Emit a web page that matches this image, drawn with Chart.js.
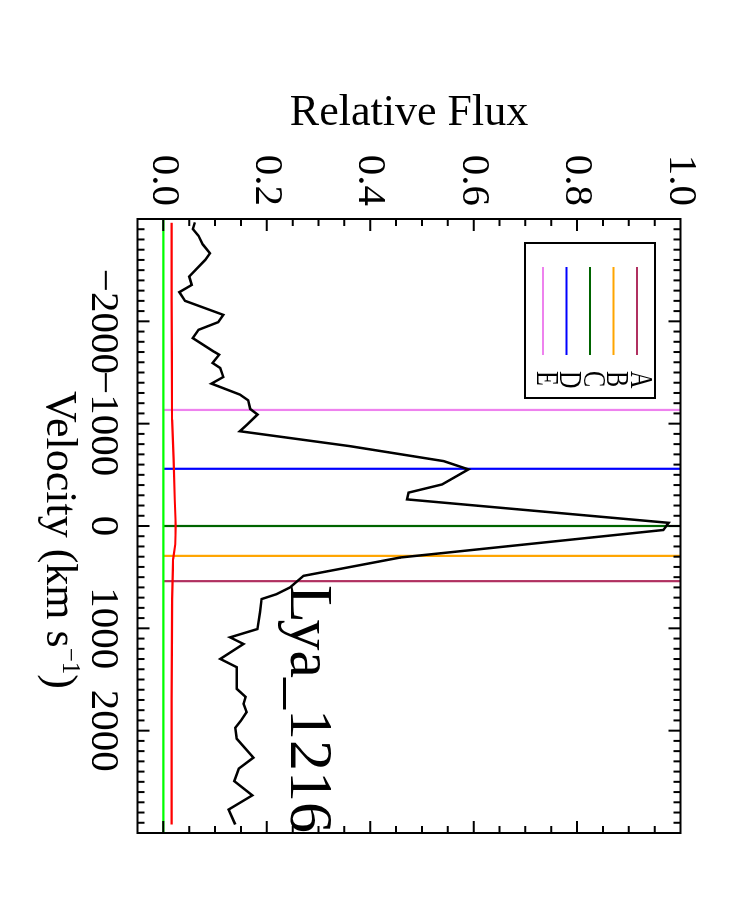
<!DOCTYPE html>
<html>
<head>
<meta charset="utf-8">
<script src="https://cdn.jsdelivr.net/npm/chart.js@4.4.1/dist/chart.umd.min.js"></script>
<style>
    html, body { margin: 0; padding: 0; background: #fff; }
    body { width: 750px; height: 900px; overflow: hidden; position: relative; }
    /* o grafico original esta girado 90 graus */
    #quadro { position: absolute; left: 0; top: 0; width: 900px; height: 750px;
              transform-origin: 0 0; transform: translate(750px, 0) rotate(90deg); }
</style>
</head>
<body>
<div id="quadro"><canvas id="grafico" width="900" height="750"></canvas></div>
<script>
// Espectro (velocidade em km/s, fluxo relativo)
const velocidade = [-2967, -2902, -2836, -2753, -2665, -2600, -2437, -2356, -2285, -2200,
    -2063, -1992, -1917, -1836, -1706, -1674, -1593, -1544, -1456, -1391,
    -1284, -1228, -1144, -1089, -991, -926, -780, -634, -553, -406,
    -326, -260, -31, 39, 308, 487, 600, 666, 714, 844,
    1007, 1088, 1153, 1299, 1380, 1592, 1670, 1738, 1819, 1901,
    1972, 2079, 2264, 2371, 2493, 2632, 2771, 2917];
const fluxo = [0.061, 0.057, 0.068, 0.076, 0.090, 0.081, 0.050, 0.055, 0.031, 0.042,
    0.116, 0.106, 0.068, 0.057, 0.097, 0.108, 0.095, 0.110, 0.116, 0.093,
    0.148, 0.164, 0.168, 0.182, 0.162, 0.148, 0.361, 0.542, 0.590, 0.539,
    0.474, 0.471, 0.977, 0.967, 0.458, 0.271, 0.245, 0.219, 0.190, 0.187,
    0.182, 0.129, 0.155, 0.110, 0.142, 0.142, 0.159, 0.155, 0.161, 0.150,
    0.139, 0.142, 0.174, 0.146, 0.137, 0.172, 0.126, 0.139];

// Erro (linha vermelha)
const velErro = [-2963, -2210, -1040, -650, -260, 0, 180, 325, 714, 1689, 2917];
const fluxoErro = [0.016, 0.016, 0.017, 0.020, 0.022, 0.024, 0.023, 0.019, 0.017, 0.016, 0.016];

// Linha do zero (verde)
const velZero = [-3000, 3000];
const fluxoZero = [0, 0];

// Componentes marcadas
const componentes = ['A', 'B', 'C', 'D', 'E'];
const compVel = [539, 292, 0, -559, -1134];
const compCores = ['#b03060', '#ffa500', '#006400', '#0000ff', '#ee82ee'];

// Eixos
const velLimites = [-3000, 3000];
const fluxoLimites = [-0.05, 1.0];
const velTicks = [-2000, -1000, 0, 1000, 2000];
const fluxoTicks = [0, 0.2, 0.4, 0.6, 0.8, 1.0];

const FONTE = '"Liberation Serif", "Times New Roman", serif';

function pares(xs, ys) {
    return xs.map((v, i) => ({ x: v, y: ys[i] }));
}

// moldura com ticks para dentro nos quatro lados
const molduraPlugin = {
    id: 'moldura',
    afterDatasetsDraw(chart) {
        const { ctx, chartArea: a, scales: { x, y } } = chart;
        ctx.save();
        ctx.strokeStyle = '#000';
        ctx.lineWidth = 2;
        ctx.strokeRect(a.left, a.top, a.right - a.left, a.bottom - a.top);
        ctx.beginPath();
        for (let v = velLimites[0] + 100; v < velLimites[1]; v += 100) {
            const px = x.getPixelForValue(v);
            const len = v % 1000 === 0 ? 12 : 7;
            ctx.moveTo(px, a.bottom); ctx.lineTo(px, a.bottom - len);
            ctx.moveTo(px, a.top); ctx.lineTo(px, a.top + len);
        }
        for (let i = 0; i < 20; i++) {
            const py = y.getPixelForValue(i * 0.05);
            const len = i % 4 === 0 ? 12 : 7;
            ctx.moveTo(a.left, py); ctx.lineTo(a.left + len, py);
            ctx.moveTo(a.right, py); ctx.lineTo(a.right - len, py);
        }
        ctx.stroke();
        ctx.restore();
    }
};

// legenda, titulos e rotulo
const textosPlugin = {
    id: 'textos',
    afterDraw(chart) {
        const { ctx, chartArea: a } = chart;
        ctx.save();

        // legenda
        const x0 = a.left + 24, y0 = a.top + 25.5;
        ctx.lineWidth = 2;
        ctx.strokeStyle = '#000';
        ctx.strokeRect(x0, y0, 155, 130);
        componentes.forEach((nome, i) => {
            const yy = y0 + 18 + i * 23.5;
            ctx.strokeStyle = compCores[i];
            ctx.beginPath();
            ctx.moveTo(x0 + 24, yy);
            ctx.lineTo(x0 + 112, yy);
            ctx.stroke();
            ctx.save();
            ctx.translate(x0 + 128, yy - 2);
            ctx.scale(0.78, 1);
            ctx.font = '31px ' + FONTE;
            ctx.fillStyle = '#000';
            ctx.textBaseline = 'middle';
            ctx.fillText(nome, 0, 0);
            ctx.restore();
        });

        ctx.fillStyle = '#000';
        ctx.textBaseline = 'alphabetic';

        // titulo do eixo y
        ctx.save();
        ctx.translate(125, (a.top + a.bottom) / 2);
        ctx.rotate(-Math.PI / 2);
        ctx.font = '44px ' + FONTE;
        ctx.textAlign = 'center';
        ctx.fillText('Relative Flux', 0, 0);
        ctx.restore();

        // titulo do eixo x com expoente
        const base = 703;
        ctx.font = '44px ' + FONTE;
        const t1 = 'Velocity (km s', t3 = ')';
        const w1 = ctx.measureText(t1).width, w3 = ctx.measureText(t3).width;
        ctx.font = '25px ' + FONTE;
        const t2 = '\u22121';
        const w2 = ctx.measureText(t2).width;
        let xx = 540 - (w1 + w2 + w3) / 2;
        ctx.font = '44px ' + FONTE;
        ctx.fillText(t1, xx, base);
        xx += w1;
        ctx.font = '25px ' + FONTE;
        ctx.fillText(t2, xx, base - 16);
        xx += w2;
        ctx.font = '44px ' + FONTE;
        ctx.fillText(t3, xx, base);

        // nome da linha
        ctx.font = '62px ' + FONTE;
        ctx.textAlign = 'right';
        ctx.fillText('Lya_1216', a.right, 459);

        ctx.restore();
    }
};

const datasets = [
    {
        label: 'espectro',
        data: pares(velocidade, fluxo),
        borderColor: '#000',
        borderWidth: 2.5
    },
    {
        label: 'erro',
        data: pares(velErro, fluxoErro),
        borderColor: '#ff0000',
        borderWidth: 2.2
    },
    {
        label: 'zero',
        data: pares(velZero, fluxoZero),
        borderColor: '#00ff00',
        borderWidth: 2.2
    }
];
componentes.forEach((nome, i) => {
    datasets.push({
        label: nome,
        data: [{ x: compVel[i], y: 0 }, { x: compVel[i], y: 1 }],
        borderColor: compCores[i],
        borderWidth: 2.2
    });
});
datasets.forEach(d => {
    d.showLine = true;
    d.pointRadius = 0;
    d.tension = 0;
    d.fill = false;
});

Chart.defaults.color = '#000';

new Chart(document.getElementById('grafico').getContext('2d'), {
    type: 'scatter',
    data: { datasets: datasets },
    options: {
        responsive: false,
        animation: false,
        devicePixelRatio: 1,
        layout: { padding: { top: 69.5, right: 67, left: 0, bottom: 0 } },
        plugins: { legend: { display: false }, tooltip: { enabled: false } },
        scales: {
            x: {
                type: 'linear',
                min: velLimites[0],
                max: velLimites[1],
                grid: { display: false, drawTicks: false },
                border: { display: false },
                afterBuildTicks: s => { s.ticks = velTicks.map(v => ({ value: v })); },
                afterFit: s => { s.height = 137.5; },
                ticks: {
                    autoSkip: false,
                    maxRotation: 0,
                    minRotation: 0,
                    padding: 10,
                    font: { family: FONTE, size: 41 },
                    callback: v => (v < 0 ? '\u2212' + Math.abs(v) : String(v))
                }
            },
            y: {
                type: 'linear',
                min: fluxoLimites[0],
                max: fluxoLimites[1],
                grid: { display: false, drawTicks: false },
                border: { display: false },
                afterBuildTicks: s => { s.ticks = fluxoTicks.map(v => ({ value: v })); },
                afterFit: s => { s.width = 219; },
                ticks: {
                    autoSkip: false,
                    padding: 13,
                    font: { family: FONTE, size: 41 },
                    callback: v => Number(v).toFixed(1)
                }
            }
        }
    },
    plugins: [molduraPlugin, textosPlugin]
});
</script>
</body>
</html>
